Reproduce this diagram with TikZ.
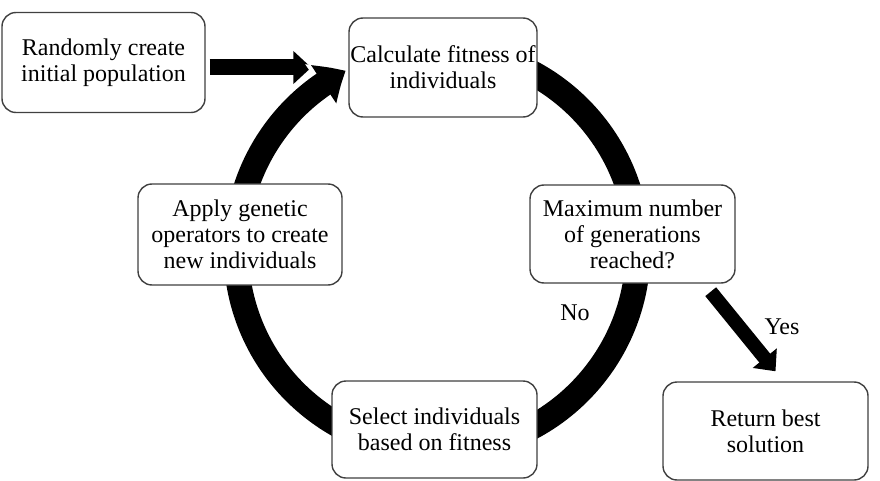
\documentclass[tikz,border=0pt]{standalone}
\usepackage{fontspec}
\setmainfont{Liberation Serif}
\usetikzlibrary{arrows.meta,bending,calc,backgrounds}
\begin{document}
\begin{tikzpicture}[x=1pt,y=1pt,
  box/.style={draw=black!75, line width=1.4pt, rounded corners=14pt, fill=white,
    align=center, inner sep=0pt, font=\fontsize{24}{26}\selectfont},
  lbl/.style={font=\fontsize{24}{26}\selectfont, inner sep=0pt},
  ringline/.style={line width=25pt, draw=black, -{Triangle[width=44pt,length=26pt,bend]}},
  ringhalo/.style={line width=31pt, draw=white, -{Triangle[width=52pt,length=30pt,bend]}},
  fatarrow/.style={line width=16pt, draw=black, -{Triangle[width=32pt,length=18pt]}},
  yesarrow/.style={line width=14pt, draw=black, -{Triangle[width=30pt,length=17pt]}}]
\useasboundingbox (0,0) rectangle (880,480);

\node[box, minimum width=203pt, minimum height=100pt] (rand) at (103.5,417.5) {Randomly create\\initial population};
\node[box, minimum width=188pt, minimum height=99pt] (calc) at (443,412.5) {Calculate fitness of\\individuals};
\node[box, minimum width=204pt, minimum height=101pt] (apply) at (240,245.5) {Apply genetic\\operators to create\\new individuals};
\node[box, minimum width=205pt, minimum height=98pt] (max) at (632.5,246) {Maximum number\\of generations\\reached?};
\node[box, minimum width=205pt, minimum height=97pt] (sel) at (434.5,50.5) {Select individuals\\based on fitness};
\node[box, minimum width=205pt, minimum height=98pt] (ret) at (765.5,49) {Return best\\solution};

\coordinate (ctr) at (437,230);

\begin{scope}[on background layer]
  \draw[fatarrow, shorten <=4pt, shorten >=37pt] (rand.east |- calc.west) -- (calc.west);
  \draw[ringhalo] (ctr) ++(95:201) arc[start angle=95, end angle=-243, radius=201];
  \draw[ringline] (ctr) ++(95:201) arc[start angle=95, end angle=-243, radius=201];
\end{scope}

\draw[yesarrow] ($(max.south east)+(-25,-8)$) -- ($(ret.north)+(10,10)$);

\node[lbl] (no) at (575,167) {No};
\node[lbl] (yes) at (782,153) {Yes};
\end{tikzpicture}
\end{document}
